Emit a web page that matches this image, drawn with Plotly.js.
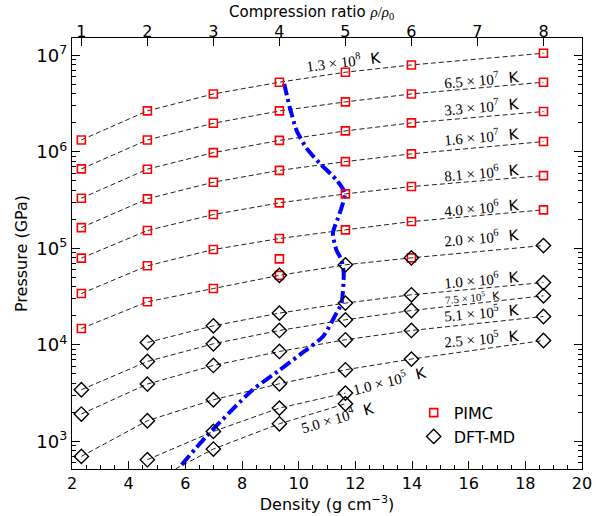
<!DOCTYPE html>
<html>
<head>
<meta charset="utf-8">
<script src="https://cdn.plot.ly/plotly-3.0.1.min.js"></script>
<style>html,body{margin:0;padding:0;background:#fff;}</style>
</head>
<body>
<div id="chart" style="width:596px;height:516px;"></div>
<script>
// ---- data ----
const rho0 = 2.33;                       // ambient density (g/cc)
const ratios = [1, 2, 3, 4, 5, 6, 7, 8]; // compression ratio ticks
const density = [2.33, 4.66, 6.99, 9.32, 11.65, 13.98, 18.64];

const tempLabels = ["1.3 × 10<sup>8</sup>", "6.5 × 10<sup>7</sup>", "3.3 × 10<sup>7</sup>", "1.6 × 10<sup>7</sup>",
  "8.1 × 10<sup>6</sup>", "4.0 × 10<sup>6</sup>", "2.0 × 10<sup>6</sup>", "1.0 × 10<sup>6</sup>",
  "7.5 × 10<sup>5</sup>", "5.1 × 10<sup>5</sup>", "2.5 × 10<sup>5</sup>", "1.0 × 10<sup>5</sup>", "5.0 × 10<sup>4</sup>"];

// pressures (GPa) on each isotherm, at the densities above (null = no point)
const P_1p3e8 = [1.33e6, 2.66e6, 3.99e6, 5.28e6, 6.70e6, 7.97e6, 1.054e7];
const P_6p5e7 = [6.66e5, 1.33e6, 1.98e6, 2.66e6, 3.30e6, 3.99e6, 5.28e6];
const P_3p3e7 = [3.31e5, 6.62e5, 9.83e5, 1.316e6, 1.65e6, 2.0e6, 2.62e6];
const P_1p6e7 = [1.64e5, 3.26e5, 4.85e5, 6.43e5, 7.93e5, 9.54e5, 1.28e6];
const P_8p1e6 = [7.91e4, 1.53e5, 2.24e5, 2.96e5, 3.67e5, 4.37e5, 5.68e5];
const P_4p0e6 = [3.40e4, 6.59e4, 9.72e4, 1.264e5, 1.555e5, 1.895e5, 2.506e5];
const P_2p0e6 = [1.475e4, 2.79e4, 3.83e4, 5.25e4, 6.75e4, 7.97e4, 1.069e5];
const P_1p0e6 = [null, 1.056e4, 1.573e4, 2.13e4, 2.705e4, 3.30e4, 4.42e4];
const P_7p5e5 = [3418, 6713, 1.024e4, 1.407e4, 1.816e4, 2.267e4, 3.22e4];
const P_5p1e5 = [1914, 3914, 6103, 8523, 1.127e4, 1.407e4, 1.965e4];
const P_2p5e5 = [696, 1631, 2692, 3943, 5507, 7110, 1.108e4];
const P_1p0e5 = [null, 643, 1264, 2208, 3158, null, null];
const P_5p0e4 = [null, 363, 830, 1517, 2447, null, null];

// which method gave each point: P = PIMC, D = DFT-MD, B = both, - = none
const src_1p3e8 = "PPPPPPP";
const src_6p5e7 = "PPPPPPP";
const src_3p3e7 = "PPPPPPP";
const src_1p6e7 = "PPPPPPP";
const src_8p1e6 = "PPPPPPP";
const src_4p0e6 = "PPPPPPP";
const src_2p0e6 = "PPPBDBD";
const src_1p0e6 = "-DDDDDD";
const src_7p5e5 = "DDDDDDD";
const src_5p1e5 = "DDDDDDD";
const src_2p5e5 = "DDDDDDD";
const src_1p0e5 = "-DDDD--";
const src_5p0e4 = "-DDDD--";

// extra PIMC point
const pimcExtraRho = [9.32];
const pimcExtraP = [7.78e4];

// shock Hugoniot
const hugRho = [5.87, 6.74, 8.38, 9.26, 10.04, 10.86, 11.27, 11.51, 11.59, 11.51, 11.33, 11.21, 11.45, 11.63, 11.33, 10.74, 10.27, 9.92, 9.68, 9.49];
const hugP = [571, 1122, 3420, 5285, 7875, 1.219e4, 1.965e4, 2.705e4, 5.53e4, 7.60e4, 9.65e4, 1.437e5, 2.317e5, 3.73e5, 5.13e5, 7.64e5, 1.10e6, 1.69e6, 2.948e6, 5.07e6];

// ---- build ----
const isoP = [P_1p3e8, P_6p5e7, P_3p3e7, P_1p6e7, P_8p1e6, P_4p0e6, P_2p0e6, P_1p0e6, P_7p5e5, P_5p1e5, P_2p5e5, P_1p0e5, P_5p0e4];
const isoSrc = [src_1p3e8, src_6p5e7, src_3p3e7, src_1p6e7, src_8p1e6, src_4p0e6, src_2p0e6, src_1p0e6, src_7p5e5, src_5p1e5, src_2p5e5, src_1p0e5, src_5p0e4];

// label anchor positions (x in g/cc, y in log10 GPa), rotation, font size
const labelPos = [
  [11.59, 6.935, -7, 15], [16.46, 6.748, -5, 15], [16.46, 6.468, -5, 15], [16.46, 6.157, -5, 15],
  [16.46, 5.784, -5, 15], [16.46, 5.422, -5, 15], [16.46, 5.111, -5, 15], [16.46, 4.676, -5, 15],
  [16.14, 4.489, -5, 11], [16.46, 4.334, -5, 15], [16.46, 4.064, -5, 15], [13.21, 3.627, -14, 15],
  [11.38, 3.244, -16, 15]
];

const traces = [];
isoP.forEach(p => {
  traces.push({x: density, y: p, type: 'scatter', mode: 'lines', showlegend: false, hoverinfo: 'skip',
    line: {color: '#222', width: 1, dash: '5px,3px'}, connectgaps: false});
});
// Hugoniot and markers on the overlaid (top) axis, which shares the same density scale
traces.push({x: hugRho, y: hugP, xaxis: 'x2', type: 'scatter', mode: 'lines', showlegend: false,
  line: {color: '#0000ff', width: 4, dash: '12px,4px,3px,4px', shape: 'spline', smoothing: 0.6}});

const pimcX = [], pimcY = [], dftX = [], dftY = [];
isoP.forEach((p, i) => {
  const s = isoSrc[i];
  density.forEach((d, j) => {
    const c = s[j];
    if (p[j] == null) return;
    if (c === 'P' || c === 'B') { pimcX.push(d); pimcY.push(p[j]); }
    if (c === 'D' || c === 'B') { dftX.push(d); dftY.push(p[j]); }
  });
});
pimcExtraRho.forEach((d, k) => { pimcX.push(d); pimcY.push(pimcExtraP[k]); });

traces.push({x: pimcX, y: pimcY, xaxis: 'x2', type: 'scatter', mode: 'markers', name: 'PIMC',
  marker: {symbol: 'square-open', size: 8, color: '#ff0000', line: {color: '#ff0000', width: 1.6}}});
traces.push({x: dftX, y: dftY, xaxis: 'x2', type: 'scatter', mode: 'markers', name: 'DFT-MD',
  marker: {symbol: 'diamond-open', size: 11, color: '#000', line: {color: '#000', width: 1.4}}});

const annotations = tempLabels.map((t, i) => ({
  x: labelPos[i][0], y: labelPos[i][1], xref: 'x', yref: 'y', showarrow: false,
  textangle: labelPos[i][2],
  text: '<span style="font-family:\'Liberation Serif\'">' + t + '</span>  K',
  font: {family: 'DejaVu Sans', size: labelPos[i][3], color: '#000'}
}));
// top-axis title
annotations.push({
  xref: 'paper', yref: 'paper', x: 0.47, y: 1.06, xanchor: 'center', yanchor: 'middle', showarrow: false,
  text: 'Compression ratio <span style="font-family:\'Liberation Serif\'"><i>ρ</i>/<i>ρ</i><sub>0</sub></span>',
  font: {family: 'DejaVu Sans', size: 15, color: '#000'}
});

const minorY = [];
for (let e = 2; e <= 7; e++) for (let k = 2; k <= 9; k++) minorY.push(k * Math.pow(10, e));

const layout = {
  width: 596, height: 516,
  margin: {l: 72, r: 14, t: 38, b: 47},
  paper_bgcolor: '#fff', plot_bgcolor: '#fff',
  font: {family: 'DejaVu Sans', color: '#000'},
  xaxis: {
    range: [2, 20], tickvals: [2, 4, 6, 8, 10, 12, 14, 16, 18, 20],
    ticks: 'inside', ticklen: 8, tickwidth: 1, tickcolor: '#000',
    showline: true, linecolor: '#000', linewidth: 1.2, mirror: true,
    showgrid: false, zeroline: false, tickfont: {size: 16},
    minor: {dtick: 0.5, ticks: 'inside', ticklen: 4, tickcolor: '#000', showgrid: false},
    title: {text: 'Density (g cm<sup>−3</sup>)', font: {size: 16}, standoff: 2}
  },
  xaxis2: {
    overlaying: 'x', side: 'top', anchor: 'y', range: [2, 20],
    tickvals: ratios.map(r => r * rho0), ticktext: ratios.map(String),
    ticks: 'inside', ticklen: 8, tickcolor: '#000', showgrid: false, zeroline: false,
    showline: true, linecolor: '#000', linewidth: 1.2, tickfont: {size: 16},
    ticklabelstandoff: -7
  },
  yaxis: {
    type: 'log', range: [2.712, 7.181],
    tickvals: [1e3, 1e4, 1e5, 1e6, 1e7],
    ticktext: ['10<sup>3</sup>', '10<sup>4</sup>', '10<sup>5</sup>', '10<sup>6</sup>', '10<sup>7</sup>'],
    ticks: 'inside', ticklen: 8, tickcolor: '#000',
    showline: true, linecolor: '#000', linewidth: 1.2, mirror: 'ticks',
    showgrid: false, zeroline: false, tickfont: {size: 18},
    minor: {tickvals: minorY, ticks: 'inside', ticklen: 4, tickcolor: '#000', showgrid: false},
    title: {text: 'Pressure (GPa)', font: {size: 16}, standoff: 4}
  },
  legend: {x: 0.67, y: 0.17, xanchor: 'left', yanchor: 'top', font: {size: 16},
    bgcolor: 'rgba(0,0,0,0)', borderwidth: 0},
  annotations: annotations
};

Plotly.newPlot('chart', traces, layout, {displayModeBar: false, staticPlot: true});
</script>
</body>
</html>
